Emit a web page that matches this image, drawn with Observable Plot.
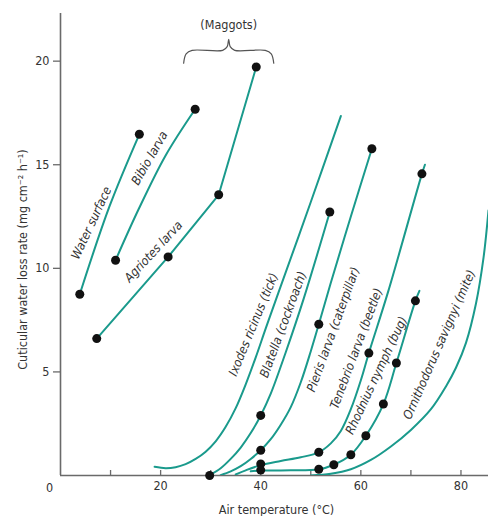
<!DOCTYPE html>
<html><head><meta charset="utf-8">
<script src="https://cdn.jsdelivr.net/npm/d3@7"></script>
<script src="https://cdn.jsdelivr.net/npm/@observablehq/plot@0.6"></script>
<style>
body{margin:0;background:#fff}
#chart svg{font-family:"Liberation Sans Narrow","DejaVu Sans Condensed","Arial Narrow",sans-serif;font-stretch:condensed;}
</style></head><body><div id="chart"></div>
<script>
// ---- data ----
const xTickLabels = [20, 40, 60, 80];
const xMinorTicks = [10, 20, 30, 40, 50, 60, 70, 80];
const yTickLabels = [5, 10, 15, 20];

// lines
const waterSurfaceCurve = [[3.85, 8.75], [9.8, 13.0], [15.75, 16.47]];
const bibioCurve = [[11.0, 10.39], [15.6, 12.85], [21, 15.45], [26.9, 17.68]];
const agriotesCurve = [[7.24, 6.61], [21.5, 10.55], [31.6, 13.55], [39.1, 19.72]];
const ixodesCurve = [[18.8, 0.42], [21, 0.35], [23, 0.4], [25, 0.55], [27, 0.8], [29, 1.15], [31, 1.65], [33, 2.35], [35, 3.25], [37, 4.4], [39, 5.7], [41, 7.1], [43.5, 8.8], [50, 13.2], [56, 17.35]];
const blatellaCurve = [[29.8, 0.02], [32, 0.35], [34, 0.8], [36, 1.35], [38, 2.05], [40, 2.9], [42, 3.95], [45, 5.95], [48.6, 8.55], [53.8, 12.72]];
const pierisCurve = [[32, 0.02], [34, 0.2], [36, 0.45], [38, 0.8], [40, 1.22], [42, 1.75], [44, 2.45], [46, 3.3], [48, 4.5], [50, 6.0], [51.6, 7.3], [54, 9.3], [58, 12.5], [62.2, 15.77]];
const tenebrioCurve = [[35, 0.05], [37, 0.25], [40, 0.5], [44, 0.7], [48, 0.88], [51.6, 1.12], [54, 1.55], [56, 2.15], [58, 3.2], [60, 4.6], [61.6, 5.91], [65.5, 8.91], [72.2, 14.56], [72.8, 15.0]];
const rhodniusCurve = [[38, 0.2], [40, 0.24], [46, 0.25], [51.6, 0.3], [54.6, 0.52], [58, 1.0], [61, 1.92], [64.5, 3.45], [67.1, 5.43], [70.9, 8.43], [71.7, 8.91]];
const ornithodorusCurve = [[50, 0.0], [54, 0.08], [58, 0.3], [62, 0.75], [66, 1.4], [70, 2.2], [74, 3.2], [77, 4.3], [79, 5.2], [81, 6.4], [83, 8.3], [84.5, 10.5], [85.5, 12.8]];

// measured points (dots)
const waterSurfaceDots = [[3.85, 8.75], [15.75, 16.47]];
const bibioDots = [[11.0, 10.39], [26.9, 17.68]];
const agriotesDots = [[7.24, 6.61], [21.5, 10.55], [31.6, 13.55], [39.1, 19.72]];
const blatellaDots = [[29.8, 0], [40, 2.9], [53.8, 12.72]];
const pierisDots = [[40, 1.22], [51.6, 7.3], [62.2, 15.77]];
const tenebrioDots = [[40, 0.56], [51.6, 1.12], [61.6, 5.91], [72.2, 14.56]];
const rhodniusDots = [[40, 0.26], [51.6, 0.3], [54.6, 0.52], [58, 1.0], [61, 1.92], [64.5, 3.45], [67.1, 5.43], [70.9, 8.43]];

// series labels: name, anchor (data units), angle
const labelNames = ["Water surface", "Bibio larva", "Agriotes larva", "Ixodes ricinus (tick)", "Blatella (cockroach)", "Pieris larva (caterpillar)", "Tenebrio larva (beetle)", "Rhodnius nymph (bug)", "Ornithodorus savignyi (mite)"];
const labelX = [6.2, 17.8, 18.6, 38.55, 44.5, 54.5, 59.1, 63.1, 75.7];
const labelY = [12.19, 15.32, 10.81, 7.29, 7.29, 7.05, 6.13, 4.83, 6.32];
const labelAngle = [-65, -60, -47, -67.6, -69.7, -70, -69.4, -64.8, -66.3];

// maggots brace annotation
const braceText = "(Maggots)";
const braceTextPos = [33.6, 21.75];
const bracePath = [[24.6, 19.9], [25.1, 20.35], [26.3, 20.52], [32.4, 20.52], [33.3, 20.7], [33.6, 21.05], [33.9, 20.7], [34.8, 20.52], [40.9, 20.52], [42.1, 20.35], [42.6, 19.9]];

const yLabel = "Cuticular water loss rate (mg cm\u207B\u00B2 h\u207B\u00B9)";
const xLabel = "Air temperature (\u00B0C)";

// ---- build tables ----
const toRows = (name, arr) => arr.map(([x, y]) => ({series: name, x, y}));
const smoothLines = [
  ...toRows("Water surface", waterSurfaceCurve),
  ...toRows("Bibio", bibioCurve),
  ...toRows("Ixodes", ixodesCurve),
  ...toRows("Blatella", blatellaCurve),
  ...toRows("Pieris", pierisCurve),
  ...toRows("Tenebrio", tenebrioCurve),
  ...toRows("Rhodnius", rhodniusCurve),
  ...toRows("Ornithodorus", ornithodorusCurve)
];
const straightLines = toRows("Agriotes", agriotesCurve);
const dots = [waterSurfaceDots, bibioDots, agriotesDots, blatellaDots, pierisDots, tenebrioDots, rhodniusDots]
  .flatMap(a => a.map(([x, y]) => ({x, y})));
const labels = labelNames.map((t, i) => ({t, x: labelX[i], y: labelY[i], a: labelAngle[i]}));
const brace = bracePath.map(([x, y]) => ({x, y}));

const teal = "#1a9a8c";
const axisGray = "#6a6a6a";
const textCol = "#333";

const chart = Plot.plot({
  width: 488,
  height: 516,
  marginLeft: 60,
  marginRight: 0,
  marginTop: 13,
  marginBottom: 41,
  style: {fontSize: "12px", color: textCol, background: "#fff"},
  x: {domain: [0, 85.5], axis: null},
  y: {domain: [0, 22.3], axis: null},
  marks: [
    // axis lines
    Plot.ruleX([0], {stroke: axisGray, strokeWidth: 1.6}),
    Plot.ruleY([0], {stroke: axisGray, strokeWidth: 1.6}),
    // y ticks and labels
    Plot.axisY({ticks: yTickLabels, tickSize: 7, tickPadding: 4, label: null, stroke: axisGray, fill: textCol, fontSize: 12.5, strokeWidth: 1.3}),
    // x inward minor ticks
    Plot.tickX(xMinorTicks, {x: d => d, stroke: axisGray, strokeWidth: 1.3, insetTop: 457}),
    Plot.axisX({ticks: xTickLabels, tickSize: 0, tickPadding: 6, label: null, fill: textCol, fontSize: 12.5}),
    Plot.text(["0"], {x: 0, y: 0, dx: -11, dy: 12, fill: textCol, fontSize: 12.5}),
    // axis titles
    Plot.text([yLabel], {frameAnchor: "left", textAnchor: "middle", rotate: -90, dx: -38, dy: 15, fill: textCol, fontSize: 12.5}),
    Plot.text([xLabel], {frameAnchor: "bottom", textAnchor: "middle", dx: 2, dy: 38, fill: textCol, fontSize: 12.5}),
    // lines
    Plot.line(smoothLines, {x: "x", y: "y", z: "series", curve: "catmull-rom", stroke: teal, strokeWidth: 2, clip: true}),
    Plot.line(straightLines, {x: "x", y: "y", stroke: teal, strokeWidth: 2}),
    // dots
    Plot.dot(dots, {x: "x", y: "y", r: 4.5, fill: "#111"}),
    // series labels
    Plot.text(labels, {x: "x", y: "y", text: "t", rotate: "a", fontStyle: "italic", fontSize: 12.5, fill: textCol}),
    // maggots brace
    Plot.line(brace, {x: "x", y: "y", curve: "catmull-rom", stroke: "#555", strokeWidth: 1.2}),
    Plot.text([braceText], {x: braceTextPos[0], y: braceTextPos[1], fill: textCol, fontSize: 12.5})
  ]
});
document.getElementById("chart").appendChild(chart);
</script>
</body></html>
